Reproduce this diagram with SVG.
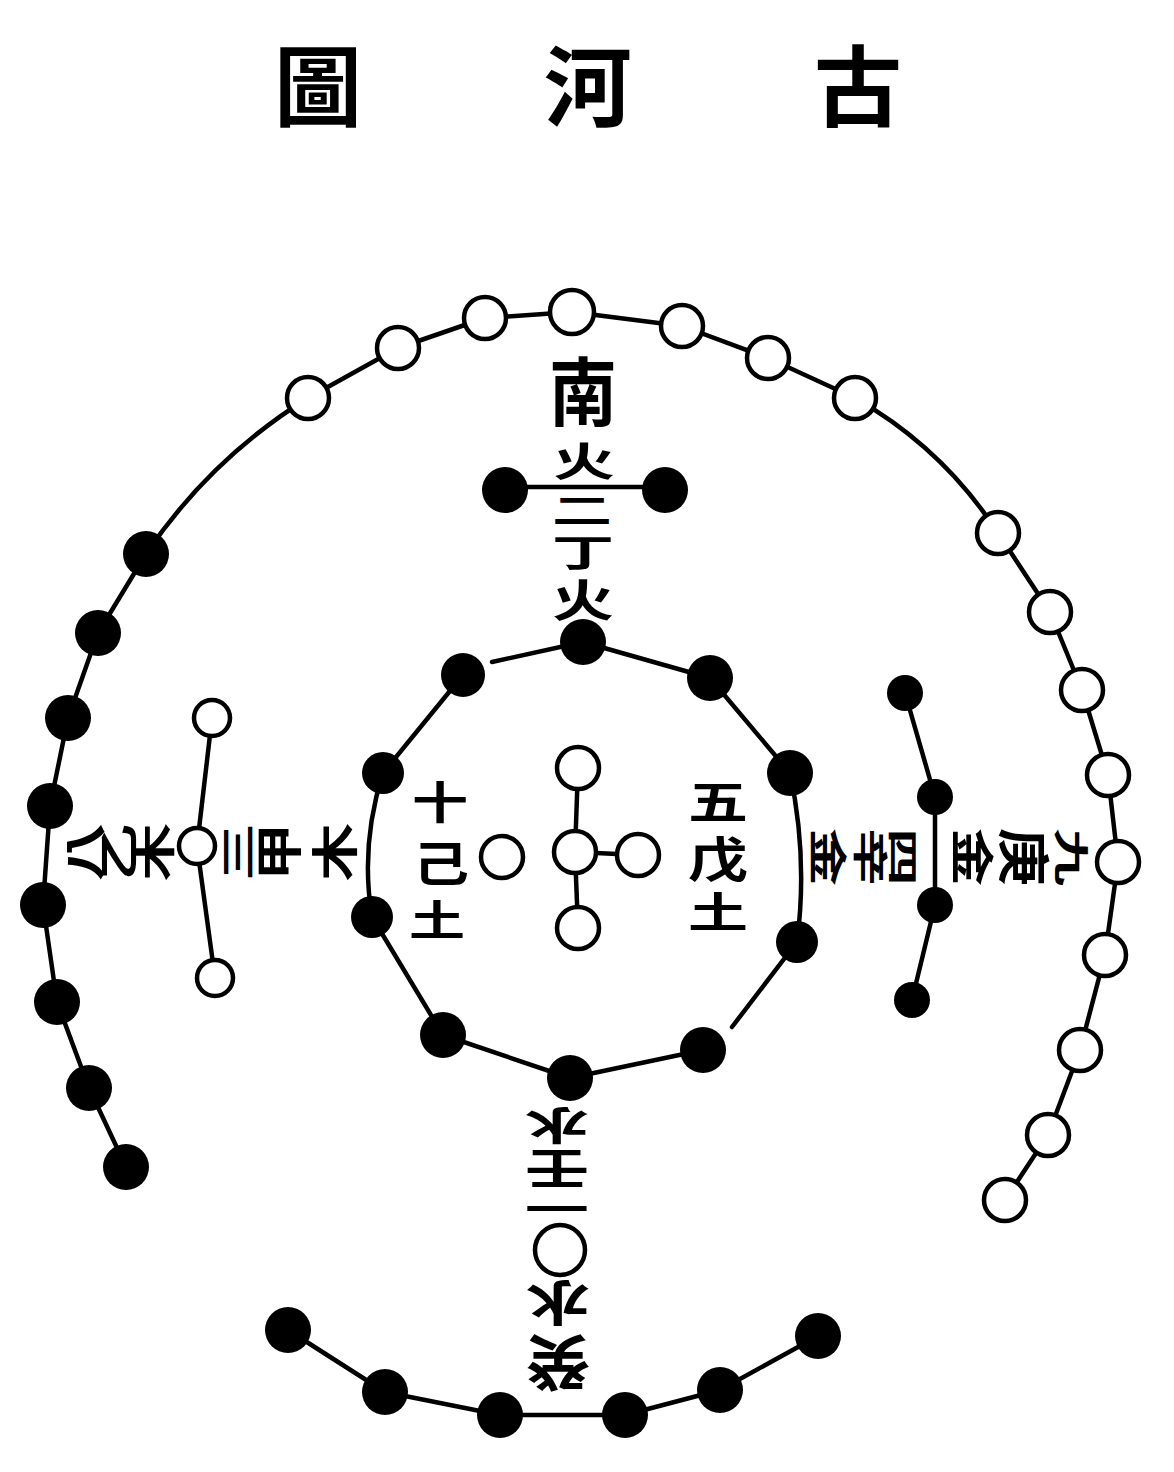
<svg xmlns="http://www.w3.org/2000/svg" width="1174" height="1472" viewBox="0 0 1174 1472">
<style>
.t{font-family:"Noto Sans CJK TC","Noto Sans CJK SC",sans-serif;font-weight:700;fill:#000;text-anchor:middle;dominant-baseline:central}
.ti{font-size:88px}
.ln{fill:none;stroke:#000;stroke-width:4.5;stroke-linejoin:round;stroke-linecap:round}
.b{fill:#000}
.w{fill:#fff;stroke:#000;stroke-width:4.5}
</style>
<rect width="1174" height="1472" fill="#fff"/>
<g id="title">
<text class="t ti" x="318" y="80">圖</text>
<text class="t ti" x="588" y="80">河</text>
<text class="t ti" x="858" y="80">古</text>
</g>
<g id="connectors">
<path class="ln" d="M126,1167 L89,1088 L57,1002 L43,905 L50,806 L68,718 L98,633 L146,554 Q210,459 308,398 L398,348 L485,318 L572,312 L682,326 L768,358 L855,398 Q943,448 998,533 L1050,612 L1082,690 L1108,775 L1118,862 L1105,955 L1080,1050 L1048,1135 L1005,1200"/>
<polyline class="ln" points="288,1330 385,1392 500,1415 625,1415 720,1390 818,1336"/>
<line class="ln" x1="505" y1="487" x2="665" y2="487"/>
<polyline class="ln" points="212,718 197,846 215,978"/>
<polyline class="ln" points="905,693 935,797 935,905 912,1000"/>
<path class="ln" d="M492,662 L583,642 L710,678 L790,773 Q808,857 797,942 L732,1027"/>
<path class="ln" d="M703,1050 L570,1078 L443,1035 L372,917 Q360,845 383,773 L463,675"/>
<line class="ln" x1="578" y1="768" x2="575" y2="852"/>
<line class="ln" x1="575" y1="852" x2="578" y2="928"/>
<line class="ln" x1="575" y1="852" x2="638" y2="855"/>
</g>
<g id="outer-left-8">
<circle class="b" cx="146" cy="554" r="23"/><circle class="b" cx="98" cy="633" r="23"/><circle class="b" cx="68" cy="718" r="23"/><circle class="b" cx="50" cy="806" r="23"/><circle class="b" cx="43" cy="905" r="23"/><circle class="b" cx="57" cy="1002" r="23"/><circle class="b" cx="89" cy="1088" r="23"/><circle class="b" cx="126" cy="1167" r="23"/>
</g>
<g id="outer-top-7">
<circle class="w" cx="308" cy="398" r="21"/><circle class="w" cx="398" cy="348" r="21"/><circle class="w" cx="485" cy="318" r="21"/><circle class="w" cx="572" cy="312" r="22"/><circle class="w" cx="682" cy="326" r="21"/><circle class="w" cx="768" cy="358" r="21"/><circle class="w" cx="855" cy="398" r="21"/>
</g>
<g id="outer-right-9">
<circle class="w" cx="998" cy="533" r="21"/><circle class="w" cx="1050" cy="612" r="21"/><circle class="w" cx="1082" cy="690" r="21"/><circle class="w" cx="1108" cy="775" r="21"/><circle class="w" cx="1118" cy="862" r="21"/><circle class="w" cx="1105" cy="955" r="21"/><circle class="w" cx="1080" cy="1050" r="21"/><circle class="w" cx="1048" cy="1135" r="21"/><circle class="w" cx="1005" cy="1200" r="21"/>
</g>
<g id="outer-bottom-6">
<circle class="b" cx="288" cy="1330" r="23"/><circle class="b" cx="385" cy="1392" r="23"/><circle class="b" cx="500" cy="1415" r="23"/><circle class="b" cx="625" cy="1415" r="23"/><circle class="b" cx="720" cy="1390" r="23"/><circle class="b" cx="818" cy="1336" r="23"/>
</g>
<g id="inner-top-2">
<circle class="b" cx="505" cy="490" r="23"/><circle class="b" cx="665" cy="490" r="23"/>
</g>
<g id="inner-left-3">
<circle class="w" cx="212" cy="718" r="18"/><circle class="w" cx="197" cy="846" r="18"/><circle class="w" cx="215" cy="978" r="18"/>
</g>
<g id="inner-right-4">
<circle class="b" cx="905" cy="693" r="18"/><circle class="b" cx="935" cy="797" r="18"/><circle class="b" cx="935" cy="905" r="18"/><circle class="b" cx="912" cy="1000" r="18"/>
</g>
<g id="inner-bottom-1">
<circle class="w" cx="560" cy="1250" r="25"/>
</g>
<g id="ring-10">
<circle class="b" cx="583" cy="642" r="23"/><circle class="b" cx="710" cy="678" r="23"/><circle class="b" cx="790" cy="773" r="23"/><circle class="b" cx="797" cy="942" r="21"/><circle class="b" cx="703" cy="1050" r="23"/><circle class="b" cx="570" cy="1078" r="23"/><circle class="b" cx="443" cy="1035" r="23"/><circle class="b" cx="372" cy="917" r="21"/><circle class="b" cx="383" cy="773" r="21"/><circle class="b" cx="463" cy="675" r="22"/>
</g>
<g id="center-5">
<circle class="w" cx="578" cy="768" r="21"/><circle class="w" cx="575" cy="852" r="21"/><circle class="w" cx="638" cy="855" r="21"/><circle class="w" cx="578" cy="928" r="21"/><circle class="w" cx="502" cy="857" r="21"/>
</g>
<g id="label-top">
<text class="t" font-size="68" transform="translate(583,388) scale(1,1.1)">南</text>
<text class="t" font-size="62" transform="translate(584,458) scale(1,0.65)">火</text>
<text class="t" font-size="60" transform="translate(582,508) scale(1,0.6)">二</text>
<text class="t" font-size="62" transform="translate(583,551) scale(1,0.6)">丁</text>
<text class="t" font-size="62" transform="translate(583,598) scale(1,0.72)">火</text>
</g>
<g id="label-left">
<text class="t" font-size="58" transform="translate(82,852) rotate(-90) scale(1,0.7)">八</text>
<text class="t" font-size="58" transform="translate(116,852) rotate(-90) scale(1,0.7)">乙</text>
<text class="t" font-size="58" transform="translate(152,852) rotate(-90) scale(1,0.7)">木</text>
<text class="t" font-size="58" transform="translate(236,852) rotate(-90) scale(1,0.6)">三</text>
<text class="t" font-size="58" transform="translate(276,852) rotate(-90) scale(1,0.8)">甲</text>
<text class="t" font-size="58" transform="translate(332,852) rotate(-90) scale(1,0.8)">木</text>
</g>
<g id="label-right">
<text class="t" font-size="58" transform="translate(831,857) rotate(90) scale(1,0.65)">金</text>
<text class="t" font-size="58" transform="translate(872,857) rotate(90) scale(1,0.6)">辛</text>
<text class="t" font-size="58" transform="translate(905,857) rotate(90) scale(1,0.55)">四</text>
<text class="t" font-size="58" transform="translate(975,857) rotate(90) scale(1,0.75)">金</text>
<text class="t" font-size="58" transform="translate(1027,857) rotate(90) scale(1,0.9)">庚</text>
<text class="t" font-size="58" transform="translate(1073,857) rotate(90) scale(1,0.6)">九</text>
</g>
<g id="label-center">
<text class="t" font-size="56" transform="translate(440,800) scale(1,0.8)">十</text>
<text class="t" font-size="56" transform="translate(441,860) scale(1,0.85)">己</text>
<text class="t" font-size="56" transform="translate(437,918) scale(1,0.75)">土</text>
<text class="t" font-size="60" transform="translate(718,799) scale(1,0.75)">五</text>
<text class="t" font-size="60" transform="translate(718,856) scale(1,0.8)">戊</text>
<text class="t" font-size="60" transform="translate(718,910) scale(1,0.7)">土</text>
</g>
<g id="label-bottom">
<text class="t" font-size="64" transform="translate(557,1128) rotate(180) scale(1,0.6)">水</text>
<text class="t" font-size="64" transform="translate(557,1172) rotate(180) scale(1,0.7)">壬</text>
<text class="t" font-size="64" transform="translate(557,1211) rotate(180) scale(1,0.6)">一</text>
<text class="t" font-size="64" transform="translate(558,1306) rotate(180) scale(1,0.75)">水</text>
<text class="t" font-size="64" transform="translate(558,1366) rotate(180) scale(1,0.95)">癸</text>
</g>
</svg>
